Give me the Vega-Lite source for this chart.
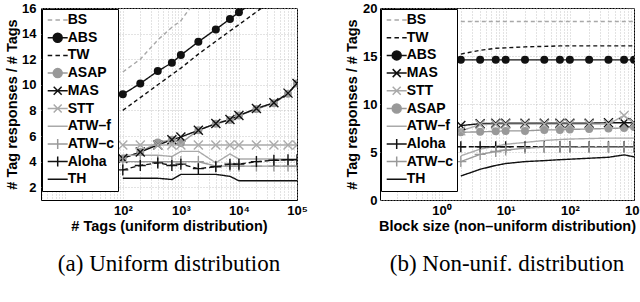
{
  "$schema": "https://vega.github.io/schema/vega-lite/v6.json",
  "padding": {"left": 4, "top": 1, "right": 0, "bottom": 0},
  "spacing": 36,
  "resolve": {"scale": {"shape": "independent", "color": "independent", "strokeDash": "independent", "stroke": "independent", "fill": "independent"},
              "legend": {"shape": "independent", "stroke": "independent", "fill": "independent"}},
  "datasets": {
    "left": [
      {"series": "BS", "x": 100, "y": 11.0}, {"series": "BS", "x": 200, "y": 12.0}, {"series": "BS", "x": 400, "y": 13.5}, {"series": "BS", "x": 700, "y": 14.5}, {"series": "BS", "x": 1000, "y": 15.0}, {"series": "BS", "x": 2000, "y": 16.9},
      {"series": "ABS", "x": 100, "y": 9.26}, {"series": "ABS", "x": 200, "y": 10.1}, {"series": "ABS", "x": 400, "y": 11.07}, {"series": "ABS", "x": 700, "y": 11.72}, {"series": "ABS", "x": 1000, "y": 12.32}, {"series": "ABS", "x": 2000, "y": 13.36}, {"series": "ABS", "x": 4000, "y": 14.33}, {"series": "ABS", "x": 7000, "y": 15.14}, {"series": "ABS", "x": 10000, "y": 15.67}, {"series": "ABS", "x": 20000, "y": 16.6},
      {"series": "TW", "x": 100, "y": 8.0}, {"series": "TW", "x": 200, "y": 9.0}, {"series": "TW", "x": 400, "y": 10.0}, {"series": "TW", "x": 700, "y": 10.8}, {"series": "TW", "x": 1000, "y": 11.3}, {"series": "TW", "x": 2000, "y": 12.4}, {"series": "TW", "x": 4000, "y": 13.4}, {"series": "TW", "x": 7000, "y": 14.2}, {"series": "TW", "x": 10000, "y": 14.7}, {"series": "TW", "x": 20000, "y": 15.7}, {"series": "TW", "x": 40000, "y": 16.7},
      {"series": "ASAP", "x": 100, "y": 4.25}, {"series": "ASAP", "x": 200, "y": 4.75}, {"series": "ASAP", "x": 400, "y": 5.5}, {"series": "ASAP", "x": 700, "y": 5.7}, {"series": "ASAP", "x": 1000, "y": 5.45}, {"series": "ASAP", "x": 2000, "y": 6.45}, {"series": "ASAP", "x": 4000, "y": 6.95}, {"series": "ASAP", "x": 7000, "y": 7.25}, {"series": "ASAP", "x": 10000, "y": 7.6}, {"series": "ASAP", "x": 20000, "y": 8.1}, {"series": "ASAP", "x": 40000, "y": 8.55}, {"series": "ASAP", "x": 70000, "y": 9.3}, {"series": "ASAP", "x": 100000, "y": 10.1},
      {"series": "MAS", "x": 100, "y": 4.25}, {"series": "MAS", "x": 200, "y": 4.75}, {"series": "MAS", "x": 400, "y": 5.3}, {"series": "MAS", "x": 700, "y": 5.7}, {"series": "MAS", "x": 1000, "y": 5.92}, {"series": "MAS", "x": 2000, "y": 6.45}, {"series": "MAS", "x": 4000, "y": 6.97}, {"series": "MAS", "x": 7000, "y": 7.28}, {"series": "MAS", "x": 10000, "y": 7.6}, {"series": "MAS", "x": 20000, "y": 8.15}, {"series": "MAS", "x": 40000, "y": 8.6}, {"series": "MAS", "x": 70000, "y": 9.35}, {"series": "MAS", "x": 100000, "y": 10.1},
      {"series": "STT", "x": 100, "y": 5.3}, {"series": "STT", "x": 200, "y": 5.3}, {"series": "STT", "x": 400, "y": 5.3}, {"series": "STT", "x": 700, "y": 5.3}, {"series": "STT", "x": 1000, "y": 5.3}, {"series": "STT", "x": 2000, "y": 5.3}, {"series": "STT", "x": 4000, "y": 5.3}, {"series": "STT", "x": 7000, "y": 5.3}, {"series": "STT", "x": 10000, "y": 5.3}, {"series": "STT", "x": 20000, "y": 5.3}, {"series": "STT", "x": 40000, "y": 5.3}, {"series": "STT", "x": 70000, "y": 5.3}, {"series": "STT", "x": 100000, "y": 5.3},
      {"series": "ATW–f", "x": 100, "y": 4.5}, {"series": "ATW–f", "x": 200, "y": 4.5}, {"series": "ATW–f", "x": 400, "y": 4.5}, {"series": "ATW–f", "x": 700, "y": 4.4}, {"series": "ATW–f", "x": 1000, "y": 4.8}, {"series": "ATW–f", "x": 2000, "y": 4.8}, {"series": "ATW–f", "x": 4000, "y": 3.9}, {"series": "ATW–f", "x": 7000, "y": 4.6}, {"series": "ATW–f", "x": 10000, "y": 4.2}, {"series": "ATW–f", "x": 20000, "y": 4.2}, {"series": "ATW–f", "x": 40000, "y": 4.2}, {"series": "ATW–f", "x": 70000, "y": 4.2}, {"series": "ATW–f", "x": 100000, "y": 4.2},
      {"series": "ATW–c", "x": 100, "y": 4.0}, {"series": "ATW–c", "x": 200, "y": 4.0}, {"series": "ATW–c", "x": 400, "y": 4.0}, {"series": "ATW–c", "x": 700, "y": 4.0}, {"series": "ATW–c", "x": 1000, "y": 4.0}, {"series": "ATW–c", "x": 2000, "y": 4.0}, {"series": "ATW–c", "x": 4000, "y": 3.65}, {"series": "ATW–c", "x": 7000, "y": 3.65}, {"series": "ATW–c", "x": 10000, "y": 3.65}, {"series": "ATW–c", "x": 20000, "y": 3.65}, {"series": "ATW–c", "x": 40000, "y": 3.65}, {"series": "ATW–c", "x": 70000, "y": 3.65}, {"series": "ATW–c", "x": 100000, "y": 3.65},
      {"series": "Aloha", "x": 100, "y": 3.35}, {"series": "Aloha", "x": 200, "y": 3.7}, {"series": "Aloha", "x": 400, "y": 3.9}, {"series": "Aloha", "x": 700, "y": 3.7}, {"series": "Aloha", "x": 1000, "y": 3.8}, {"series": "Aloha", "x": 2000, "y": 3.45}, {"series": "Aloha", "x": 4000, "y": 3.6}, {"series": "Aloha", "x": 7000, "y": 3.8}, {"series": "Aloha", "x": 10000, "y": 3.8}, {"series": "Aloha", "x": 20000, "y": 4.0}, {"series": "Aloha", "x": 40000, "y": 4.1}, {"series": "Aloha", "x": 70000, "y": 4.15}, {"series": "Aloha", "x": 100000, "y": 4.15},
      {"series": "TH", "x": 100, "y": 2.7}, {"series": "TH", "x": 200, "y": 2.7}, {"series": "TH", "x": 400, "y": 2.7}, {"series": "TH", "x": 700, "y": 2.6}, {"series": "TH", "x": 1000, "y": 3.0}, {"series": "TH", "x": 2000, "y": 3.0}, {"series": "TH", "x": 4000, "y": 3.0}, {"series": "TH", "x": 7000, "y": 2.85}, {"series": "TH", "x": 10000, "y": 2.5}, {"series": "TH", "x": 20000, "y": 2.5}, {"series": "TH", "x": 40000, "y": 2.5}, {"series": "TH", "x": 70000, "y": 2.5}, {"series": "TH", "x": 100000, "y": 2.5}
    ],
    "right": [
      {"series": "BS", "x": 2, "y": 18.6}, {"series": "BS", "x": 4, "y": 18.6}, {"series": "BS", "x": 7, "y": 18.6}, {"series": "BS", "x": 10, "y": 18.6}, {"series": "BS", "x": 20, "y": 18.6}, {"series": "BS", "x": 40, "y": 18.6}, {"series": "BS", "x": 70, "y": 18.6}, {"series": "BS", "x": 100, "y": 18.6}, {"series": "BS", "x": 200, "y": 18.6}, {"series": "BS", "x": 400, "y": 18.6}, {"series": "BS", "x": 700, "y": 18.6}, {"series": "BS", "x": 1000, "y": 18.6},
      {"series": "TW", "x": 2, "y": 15.2}, {"series": "TW", "x": 4, "y": 15.6}, {"series": "TW", "x": 7, "y": 15.8}, {"series": "TW", "x": 10, "y": 15.85}, {"series": "TW", "x": 20, "y": 15.95}, {"series": "TW", "x": 40, "y": 16.0}, {"series": "TW", "x": 70, "y": 16.05}, {"series": "TW", "x": 100, "y": 16.05}, {"series": "TW", "x": 200, "y": 16.05}, {"series": "TW", "x": 400, "y": 16.05}, {"series": "TW", "x": 700, "y": 16.05}, {"series": "TW", "x": 1000, "y": 16.05},
      {"series": "ABS", "x": 2, "y": 14.6}, {"series": "ABS", "x": 4, "y": 14.6}, {"series": "ABS", "x": 7, "y": 14.6}, {"series": "ABS", "x": 10, "y": 14.6}, {"series": "ABS", "x": 20, "y": 14.6}, {"series": "ABS", "x": 40, "y": 14.6}, {"series": "ABS", "x": 70, "y": 14.6}, {"series": "ABS", "x": 100, "y": 14.6}, {"series": "ABS", "x": 200, "y": 14.6}, {"series": "ABS", "x": 400, "y": 14.6}, {"series": "ABS", "x": 700, "y": 14.6}, {"series": "ABS", "x": 1000, "y": 14.6},
      {"series": "MAS", "x": 2, "y": 7.75}, {"series": "MAS", "x": 4, "y": 7.95}, {"series": "MAS", "x": 7, "y": 8.0}, {"series": "MAS", "x": 10, "y": 8.0}, {"series": "MAS", "x": 20, "y": 8.0}, {"series": "MAS", "x": 40, "y": 8.0}, {"series": "MAS", "x": 70, "y": 8.0}, {"series": "MAS", "x": 100, "y": 8.0}, {"series": "MAS", "x": 200, "y": 8.0}, {"series": "MAS", "x": 400, "y": 8.05}, {"series": "MAS", "x": 700, "y": 8.05}, {"series": "MAS", "x": 1000, "y": 8.05},
      {"series": "STT", "x": 2, "y": 7.2}, {"series": "STT", "x": 4, "y": 7.85}, {"series": "STT", "x": 7, "y": 7.9}, {"series": "STT", "x": 10, "y": 7.9}, {"series": "STT", "x": 20, "y": 7.9}, {"series": "STT", "x": 40, "y": 7.9}, {"series": "STT", "x": 70, "y": 7.9}, {"series": "STT", "x": 100, "y": 7.9}, {"series": "STT", "x": 200, "y": 7.9}, {"series": "STT", "x": 400, "y": 7.9}, {"series": "STT", "x": 700, "y": 8.8}, {"series": "STT", "x": 1000, "y": 8.0},
      {"series": "ASAP", "x": 2, "y": 7.05}, {"series": "ASAP", "x": 4, "y": 7.1}, {"series": "ASAP", "x": 7, "y": 7.15}, {"series": "ASAP", "x": 10, "y": 7.2}, {"series": "ASAP", "x": 20, "y": 7.2}, {"series": "ASAP", "x": 40, "y": 7.3}, {"series": "ASAP", "x": 70, "y": 7.3}, {"series": "ASAP", "x": 100, "y": 7.35}, {"series": "ASAP", "x": 200, "y": 7.4}, {"series": "ASAP", "x": 400, "y": 7.45}, {"series": "ASAP", "x": 700, "y": 7.5}, {"series": "ASAP", "x": 1000, "y": 7.6},
      {"series": "ATW–f", "x": 2, "y": 4.6}, {"series": "ATW–f", "x": 4, "y": 5.3}, {"series": "ATW–f", "x": 7, "y": 5.6}, {"series": "ATW–f", "x": 10, "y": 5.8}, {"series": "ATW–f", "x": 20, "y": 6.0}, {"series": "ATW–f", "x": 40, "y": 6.2}, {"series": "ATW–f", "x": 70, "y": 6.3}, {"series": "ATW–f", "x": 100, "y": 6.35}, {"series": "ATW–f", "x": 200, "y": 6.4}, {"series": "ATW–f", "x": 400, "y": 6.45}, {"series": "ATW–f", "x": 700, "y": 6.45}, {"series": "ATW–f", "x": 1000, "y": 6.45},
      {"series": "Aloha", "x": 2, "y": 5.55}, {"series": "Aloha", "x": 4, "y": 5.55}, {"series": "Aloha", "x": 7, "y": 5.55}, {"series": "Aloha", "x": 10, "y": 5.55}, {"series": "Aloha", "x": 20, "y": 5.55}, {"series": "Aloha", "x": 40, "y": 5.55}, {"series": "Aloha", "x": 70, "y": 5.55}, {"series": "Aloha", "x": 100, "y": 5.55}, {"series": "Aloha", "x": 200, "y": 5.55}, {"series": "Aloha", "x": 400, "y": 5.55}, {"series": "Aloha", "x": 700, "y": 5.55}, {"series": "Aloha", "x": 1000, "y": 5.55},
      {"series": "ATW–c", "x": 2, "y": 4.0}, {"series": "ATW–c", "x": 4, "y": 4.75}, {"series": "ATW–c", "x": 7, "y": 5.05}, {"series": "ATW–c", "x": 10, "y": 5.2}, {"series": "ATW–c", "x": 20, "y": 5.4}, {"series": "ATW–c", "x": 40, "y": 5.5}, {"series": "ATW–c", "x": 70, "y": 5.5}, {"series": "ATW–c", "x": 100, "y": 5.5}, {"series": "ATW–c", "x": 200, "y": 5.5}, {"series": "ATW–c", "x": 400, "y": 5.5}, {"series": "ATW–c", "x": 700, "y": 5.5}, {"series": "ATW–c", "x": 1000, "y": 5.5},
      {"series": "TH", "x": 2, "y": 2.5}, {"series": "TH", "x": 4, "y": 3.2}, {"series": "TH", "x": 7, "y": 3.6}, {"series": "TH", "x": 10, "y": 3.8}, {"series": "TH", "x": 20, "y": 4.0}, {"series": "TH", "x": 40, "y": 4.1}, {"series": "TH", "x": 70, "y": 4.2}, {"series": "TH", "x": 100, "y": 4.25}, {"series": "TH", "x": 200, "y": 4.35}, {"series": "TH", "x": 400, "y": 4.45}, {"series": "TH", "x": 700, "y": 4.7}, {"series": "TH", "x": 1000, "y": 4.5}
    ]
  },
  "hconcat": [
    {
      "width": 256,
      "height": 192,
      "data": {"name": "left"},
      "title": {"text": "(a) Uniform distribution", "orient": "bottom", "offset": 20},
      "encoding": {
        "x": {"field": "x", "type": "quantitative", "scale": {"type": "log", "domain": [3.9, 100000], "nice": false},
              "axis": {"title": "# Tags (uniform distribution)", "grid": true, "labelPadding": 4, "titlePadding": 2,
                       "values": [4,5,6,7,8,9,10,20,30,40,50,60,70,80,90,100,200,300,400,500,600,700,800,900,1000,2000,3000,4000,5000,6000,7000,8000,9000,10000,20000,30000,40000,50000,60000,70000,80000,90000,100000],
                       "labelExpr": "datum.value==100?'10²':datum.value==1000?'10³':datum.value==10000?'10⁴':datum.value==100000?'10⁵':''"}},
        "y": {"field": "y", "type": "quantitative", "scale": {"domain": [1, 16], "nice": false, "zero": false},
              "axis": {"title": "# Tag responses / # Tags", "values": [2,4,6,8,10,12,14,16], "grid": true, "labelPadding": 5, "titlePadding": 2}}
      },
      "layer": [
        {
          "mark": {"type": "line", "clip": true, "strokeWidth": 1.4},
          "encoding": {
            "color": {"field": "series", "type": "nominal", "legend": null,
                      "scale": {"domain": ["TH","Aloha","ATW–c","ATW–f","STT","MAS","ASAP","TW","ABS","BS"],
                                "range": ["#111111","#111111","#999999","#aaaaaa","#aaaaaa","#111111","#999999","#111111","#111111","#a8a8a8"]}},
            "strokeDash": {"field": "series", "type": "nominal", "legend": null,
                      "scale": {"domain": ["TH","Aloha","ATW–c","ATW–f","STT","MAS","ASAP","TW","ABS","BS"],
                                "range": [[1,0],[5,3],[1,0],[1,0],[1,0],[1,0],[1,0],[4,3],[1,0],[4,3]]}}
          }
        },
        {
          "transform": [{"filter": {"field": "series", "oneOf": ["ABS", "ASAP"]}}],
          "mark": {"type": "point", "shape": "circle", "filled": true, "size": 64, "opacity": 1, "clip": true},
          "encoding": {"color": {"field": "series", "type": "nominal", "legend": null}}
        },
        {
          "transform": [{"filter": {"field": "series", "oneOf": ["MAS", "STT"]}}],
          "mark": {"type": "point", "shape": "M-0.9,-0.9L0.9,0.9M-0.9,0.9L0.9,-0.9", "filled": false, "size": 100, "strokeWidth": 1.4, "opacity": 1, "clip": true},
          "encoding": {"color": {"field": "series", "type": "nominal", "legend": null}}
        },
        {
          "transform": [{"filter": {"field": "series", "oneOf": ["Aloha", "ATW–c"]}}],
          "mark": {"type": "point", "shape": "M-1.1,0H1.1M0,-1.1V1.1", "filled": false, "size": 100, "strokeWidth": 1.4, "opacity": 1, "clip": true},
          "encoding": {"color": {"field": "series", "type": "nominal", "legend": null}}
        },
        {
          "mark": {"type": "point", "opacity": 0},
          "encoding": {
            "x": {"value": 0}, "y": {"value": 0},
            "shape": {"field": "series", "type": "nominal", "legend": {"title": null},
                      "scale": {"domain": ["BS","ABS","TW","ASAP","MAS","STT","ATW–f","ATW–c","Aloha","TH"],
                                "range": ["M-2,0H-1.1M-0.45,0H0.45M1.1,0H2",
                                          "M-2,0H2M-0.9,0A0.9,0.9,0,1,0,0.9,0A0.9,0.9,0,1,0,-0.9,0Z",
                                          "M-2,0H-1.1M-0.45,0H0.45M1.1,0H2",
                                          "M-2,0H2M-0.9,0A0.9,0.9,0,1,0,0.9,0A0.9,0.9,0,1,0,-0.9,0Z",
                                          "M-2,0H2M-0.8,-0.8L0.8,0.8M-0.8,0.8L0.8,-0.8",
                                          "M-2,0H2M-0.8,-0.8L0.8,0.8M-0.8,0.8L0.8,-0.8",
                                          "M-2,0H2",
                                          "M-2,0H2M0,-1V1",
                                          "M-2,0H2M0,-1V1",
                                          "M-2,0H2"]}},
            "stroke": {"field": "series", "type": "nominal", "legend": {"title": null},
                       "scale": {"domain": ["BS","ABS","TW","ASAP","MAS","STT","ATW–f","ATW–c","Aloha","TH"],
                                 "range": ["#a8a8a8","#111111","#111111","#999999","#111111","#aaaaaa","#aaaaaa","#999999","#111111","#111111"]}},
            "fill": {"field": "series", "type": "nominal", "legend": {"title": null},
                     "scale": {"domain": ["BS","ABS","TW","ASAP","MAS","STT","ATW–f","ATW–c","Aloha","TH"],
                               "range": ["transparent","#111111","transparent","#999999","transparent","transparent","transparent","transparent","transparent","transparent"]}}
          }
        }
      ]
    },
    {
      "width": 254,
      "height": 192,
      "data": {"name": "right"},
      "title": {"text": "(b) Non-unif. distribution", "orient": "bottom", "offset": 20},
      "encoding": {
        "x": {"field": "x", "type": "quantitative", "scale": {"type": "log", "domain": [0.11, 1000], "nice": false},
              "axis": {"title": "Block size (non–uniform distribution)", "grid": true, "labelPadding": 4, "titlePadding": 2,
                       "values": [0.2,0.3,0.4,0.5,0.6,0.7,0.8,0.9,1,2,3,4,5,6,7,8,9,10,20,30,40,50,60,70,80,90,100,200,300,400,500,600,700,800,900,1000],
                       "labelExpr": "datum.value==1?'10⁰':datum.value==10?'10¹':datum.value==100?'10²':datum.value==1000?'10³':''"}},
        "y": {"field": "y", "type": "quantitative", "scale": {"domain": [0, 20], "nice": false},
              "axis": {"title": "# Tag responses / # Tags", "values": [0,5,10,15,20], "grid": true, "labelPadding": 3, "titlePadding": 3}}
      },
      "layer": [
        {
          "mark": {"type": "line", "clip": true, "strokeWidth": 1.4},
          "encoding": {
            "color": {"field": "series", "type": "nominal", "legend": null,
                      "scale": {"domain": ["TH","ATW–c","Aloha","ATW–f","ASAP","STT","MAS","ABS","TW","BS"],
                                "range": ["#111111","#999999","#111111","#aaaaaa","#999999","#aaaaaa","#111111","#111111","#111111","#a8a8a8"]}},
            "strokeDash": {"field": "series", "type": "nominal", "legend": null,
                      "scale": {"domain": ["TH","ATW–c","Aloha","ATW–f","ASAP","STT","MAS","ABS","TW","BS"],
                                "range": [[1,0],[1,0],[5,3],[1,0],[1,0],[1,0],[1,0],[1,0],[4,3],[4,3]]}}
          }
        },
        {
          "transform": [{"filter": {"field": "series", "oneOf": ["ABS", "ASAP"]}}],
          "mark": {"type": "point", "shape": "circle", "filled": true, "size": 64, "opacity": 1, "clip": true},
          "encoding": {"color": {"field": "series", "type": "nominal", "legend": null}}
        },
        {
          "transform": [{"filter": {"field": "series", "oneOf": ["MAS", "STT"]}}],
          "mark": {"type": "point", "shape": "M-0.9,-0.9L0.9,0.9M-0.9,0.9L0.9,-0.9", "filled": false, "size": 100, "strokeWidth": 1.4, "opacity": 1, "clip": true},
          "encoding": {"color": {"field": "series", "type": "nominal", "legend": null}}
        },
        {
          "transform": [{"filter": {"field": "series", "oneOf": ["Aloha", "ATW–c"]}}],
          "mark": {"type": "point", "shape": "M-1.1,0H1.1M0,-1.1V1.1", "filled": false, "size": 100, "strokeWidth": 1.4, "opacity": 1, "clip": true},
          "encoding": {"color": {"field": "series", "type": "nominal", "legend": null}}
        },
        {
          "mark": {"type": "point", "opacity": 0},
          "encoding": {
            "x": {"value": 0}, "y": {"value": 0},
            "shape": {"field": "series", "type": "nominal", "legend": {"title": null},
                      "scale": {"domain": ["BS","TW","ABS","MAS","STT","ASAP","ATW–f","Aloha","ATW–c","TH"],
                                "range": ["M-2,0H-1.1M-0.45,0H0.45M1.1,0H2",
                                          "M-2,0H-1.1M-0.45,0H0.45M1.1,0H2",
                                          "M-2,0H2M-0.9,0A0.9,0.9,0,1,0,0.9,0A0.9,0.9,0,1,0,-0.9,0Z",
                                          "M-2,0H2M-0.8,-0.8L0.8,0.8M-0.8,0.8L0.8,-0.8",
                                          "M-2,0H2M-0.8,-0.8L0.8,0.8M-0.8,0.8L0.8,-0.8",
                                          "M-2,0H2M-0.9,0A0.9,0.9,0,1,0,0.9,0A0.9,0.9,0,1,0,-0.9,0Z",
                                          "M-2,0H2",
                                          "M-2,0H2M0,-1V1",
                                          "M-2,0H2M0,-1V1",
                                          "M-2,0H2"]}},
            "stroke": {"field": "series", "type": "nominal", "legend": {"title": null},
                       "scale": {"domain": ["BS","TW","ABS","MAS","STT","ASAP","ATW–f","Aloha","ATW–c","TH"],
                                 "range": ["#a8a8a8","#111111","#111111","#111111","#aaaaaa","#999999","#aaaaaa","#111111","#999999","#111111"]}},
            "fill": {"field": "series", "type": "nominal", "legend": {"title": null},
                     "scale": {"domain": ["BS","TW","ABS","MAS","STT","ASAP","ATW–f","Aloha","ATW–c","TH"],
                               "range": ["transparent","transparent","#111111","transparent","transparent","#999999","transparent","transparent","transparent","transparent"]}}
          }
        }
      ]
    }
  ],
  "config": {
    "background": "white",
    "view": {"stroke": "black", "strokeWidth": 1},
    "axis": {"labelFont": "Liberation Sans", "labelFontWeight": "bold", "labelFontSize": 13, "labelColor": "black",
             "titleFont": "Liberation Sans", "titleFontWeight": "bold", "titleFontSize": 14.5, "titleColor": "black",
             "domain": false, "ticks": false, "gridColor": "#b8b8b8", "gridDash": [1, 2], "gridWidth": 0.8,
             "labelFlush": false, "labelOverlap": false, "labelBound": false},
    "legend": {"orient": "top-left", "offset": 1, "padding": 3, "strokeColor": "black", "fillColor": "white",
               "labelFont": "Liberation Sans", "labelFontWeight": "bold", "labelFontSize": 14, "labelColor": "black",
               "symbolSize": 100, "symbolOffset": 5.7, "labelOffset": 3, "clipHeight": 16, "rowPadding": 1.7,
               "symbolOpacity": 1, "symbolFillColor": "transparent", "symbolStrokeWidth": 1.5},
    "title": {"font": "Liberation Serif", "fontSize": 23, "fontWeight": "normal", "color": "black", "anchor": "middle"}
  }
}
